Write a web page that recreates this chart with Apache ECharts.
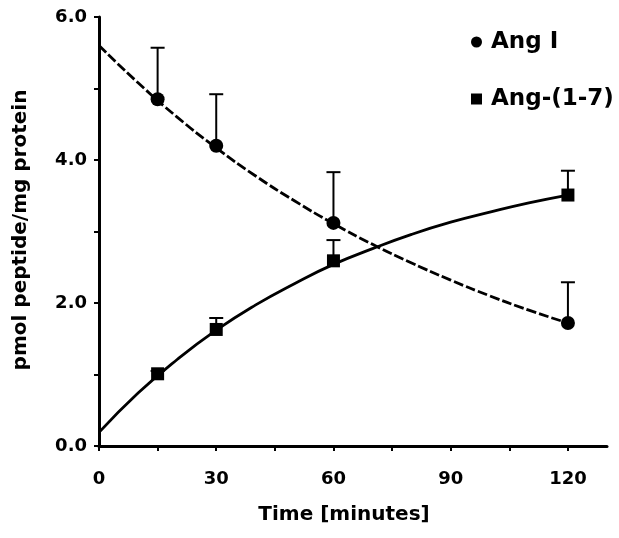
<!DOCTYPE html>
<html>
<head>
<meta charset="utf-8">
<script src="https://cdn.jsdelivr.net/npm/echarts@6/dist/echarts.min.js"></script>
<style>
html,body{margin:0;padding:0;background:#fff;}
#chart{width:619px;height:538px;}
</style>
</head>
<body>
<div id="chart"></div>
<script>
// ---- data ----
const timePoints = [15, 30, 60, 120];
const angIMean = [4.85, 4.20, 3.12, 1.72];
const angIUpper = [5.57, 4.92, 3.83, 2.29];
const ang17Mean = [1.01, 1.63, 2.59, 3.51];
const ang17Upper = [1.05, 1.79, 2.88, 3.85];

const fitTimes = [0, 10, 20, 30, 40, 50, 60, 70, 80, 90, 100, 110, 120];
const angIFit = [5.60, 5.08, 4.60, 4.17, 3.78, 3.43, 3.11, 2.82, 2.56, 2.32, 2.10, 1.90, 1.72];
const ang17Fit = [0.19, 0.74, 1.21, 1.62, 1.97, 2.27, 2.54, 2.76, 2.96, 3.13, 3.27, 3.40, 3.51];

const xTickValues = [0, 15, 30, 45, 60, 75, 90, 105, 120];
const xLabelValues = [0, 30, 60, 90, 120];
const yTickValues = [0, 1, 2, 3, 4, 5, 6];
const yLabelValues = [0, 2, 4, 6];

const seriesNames = ['Ang I', 'Ang-(1-7)'];
const xTitle = 'Time [minutes]';
const yTitle = 'pmol peptide/mg protein';

// ---- build ----
const FONT = 'DejaVu Sans';
const zip = (a, b) => a.map((v, i) => [v, b[i]]);

function errorBar(params, api) {
  const x = api.value(0);
  const p0 = api.coord([x, api.value(1)]);
  const p1 = api.coord([x, api.value(2)]);
  const cap = 7;
  const st = {stroke: '#000', lineWidth: 2};
  return {
    type: 'group',
    children: [
      {type: 'line', shape: {x1: p0[0], y1: p0[1], x2: p1[0], y2: p1[1]}, style: st},
      {type: 'line', shape: {x1: p1[0] - cap, y1: p1[1], x2: p1[0] + cap, y2: p1[1]}, style: st}
    ]
  };
}

const chart = echarts.init(document.getElementById('chart'), null, {renderer: 'canvas'});
chart.setOption({
  animation: false,
  backgroundColor: '#fff',
  grid: {left: 99, right: 12, top: 17, bottom: 92, containLabel: false},
  legend: {
    orient: 'vertical',
    left: 466,
    top: 23,
    itemWidth: 11,
    itemHeight: 11,
    itemGap: 29,
    textStyle: {fontFamily: FONT, fontWeight: 'bold', fontSize: 23, color: '#000', lineHeight: 28, padding: [0, 0, 0, 4]},
    data: [
      {name: seriesNames[0], icon: 'circle'},
      {name: seriesNames[1], icon: 'rect'}
    ]
  },
  xAxis: {
    type: 'value', min: 0, max: 130, interval: 15,
    axisLine: {onZero: false, lineStyle: {color: '#000', width: 3}},
    axisTick: {show: true, length: 5, lineStyle: {color: '#000', width: 2}, customValues: xTickValues},
    axisLabel: {customValues: xLabelValues, margin: 24, fontFamily: FONT, fontWeight: 'bold', fontSize: 18, color: '#000'},
    splitLine: {show: false}
  },
  yAxis: {
    type: 'value', min: 0, max: 6, interval: 1,
    axisLine: {show: true, onZero: false, lineStyle: {color: '#000', width: 3}},
    axisTick: {show: true, length: 5, lineStyle: {color: '#000', width: 2}, customValues: yTickValues},
    axisLabel: {customValues: yLabelValues, margin: 12, fontFamily: FONT, fontWeight: 'bold', fontSize: 18, color: '#000',
      formatter: v => v.toFixed(1)},
    splitLine: {show: false}
  },
  graphic: [
    {type: 'text', x: 344, y: 515,
      style: {text: xTitle, fontFamily: FONT, fontWeight: 'bold', fontSize: 20, fill: '#000', align: 'center', verticalAlign: 'middle'}},
    {type: 'text', x: 21, y: 230, rotation: Math.PI / 2,
      style: {text: yTitle, fontFamily: FONT, fontWeight: 'bold', fontSize: 20, fill: '#000', align: 'center', verticalAlign: 'middle'}}
  ],
  series: [
    {name: 'fitI', type: 'line', data: zip(fitTimes, angIFit), smooth: true, showSymbol: false, symbol: 'none',
      lineStyle: {color: '#000', width: 2.8, type: [10, 3]}, z: 2},
    {name: 'fit17', type: 'line', data: zip(fitTimes, ang17Fit), smooth: true, showSymbol: false, symbol: 'none',
      lineStyle: {color: '#000', width: 2.8}, z: 2},
    {name: 'errI', type: 'custom', renderItem: errorBar, data: timePoints.map((t, i) => [t, angIMean[i], angIUpper[i]]), z: 3},
    {name: 'err17', type: 'custom', renderItem: errorBar, data: timePoints.map((t, i) => [t, ang17Mean[i], ang17Upper[i]]), z: 3},
    {name: seriesNames[0], type: 'scatter', symbol: 'circle', symbolSize: 14, data: zip(timePoints, angIMean),
      itemStyle: {color: '#000', opacity: 1}, z: 4},
    {name: seriesNames[1], type: 'scatter', symbol: 'rect', symbolSize: 13, data: zip(timePoints, ang17Mean),
      itemStyle: {color: '#000', opacity: 1}, z: 4}
  ]
});
</script>
</body>
</html>
